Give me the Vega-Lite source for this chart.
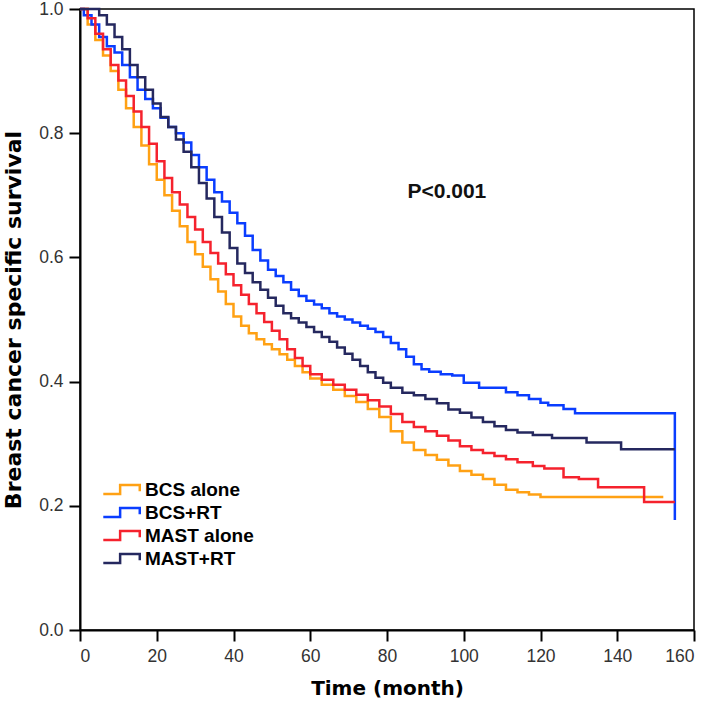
{
  "$schema": "https://vega.github.io/schema/vega-lite/v6.json",
  "width": 614,
  "height": 621,
  "autosize": "none",
  "padding": {"left": 80, "top": 9, "right": 15, "bottom": 76},
  "background": "white",
  "config": {
    "view": {"stroke": "#000", "strokeWidth": 1.5},
    "axis": {
      "grid": false,
      "domainColor": "#000",
      "domainWidth": 2,
      "tickColor": "#000",
      "tickWidth": 2,
      "tickSize": 11,
      "labelFont": "Liberation Sans",
      "labelFontSize": 17.5,
      "labelColor": "#333",
      "titleFont": "DejaVu Sans",
      "titleFontWeight": "bold",
      "titleColor": "#000"
    }
  },
  "data": {"values": [
    {"group":"BCS alone","time":0,"surv":1.0},
    {"group":"BCS alone","time":2,"surv":0.975},
    {"group":"BCS alone","time":4,"surv":0.95},
    {"group":"BCS alone","time":6,"surv":0.925},
    {"group":"BCS alone","time":8,"surv":0.9},
    {"group":"BCS alone","time":10,"surv":0.87},
    {"group":"BCS alone","time":12,"surv":0.84},
    {"group":"BCS alone","time":14,"surv":0.81},
    {"group":"BCS alone","time":16,"surv":0.78},
    {"group":"BCS alone","time":18,"surv":0.75},
    {"group":"BCS alone","time":20,"surv":0.725},
    {"group":"BCS alone","time":22,"surv":0.7},
    {"group":"BCS alone","time":24,"surv":0.675},
    {"group":"BCS alone","time":26,"surv":0.65},
    {"group":"BCS alone","time":28,"surv":0.625},
    {"group":"BCS alone","time":30,"surv":0.605},
    {"group":"BCS alone","time":32,"surv":0.585},
    {"group":"BCS alone","time":34,"surv":0.565},
    {"group":"BCS alone","time":36,"surv":0.545},
    {"group":"BCS alone","time":38,"surv":0.525},
    {"group":"BCS alone","time":40,"surv":0.505},
    {"group":"BCS alone","time":42,"surv":0.49},
    {"group":"BCS alone","time":44,"surv":0.478},
    {"group":"BCS alone","time":46,"surv":0.468},
    {"group":"BCS alone","time":48,"surv":0.46},
    {"group":"BCS alone","time":50,"surv":0.452},
    {"group":"BCS alone","time":52,"surv":0.444},
    {"group":"BCS alone","time":54,"surv":0.435},
    {"group":"BCS alone","time":56,"surv":0.425},
    {"group":"BCS alone","time":58,"surv":0.415},
    {"group":"BCS alone","time":60,"surv":0.405},
    {"group":"BCS alone","time":63,"surv":0.395},
    {"group":"BCS alone","time":66,"surv":0.387},
    {"group":"BCS alone","time":69,"surv":0.377},
    {"group":"BCS alone","time":72,"surv":0.367},
    {"group":"BCS alone","time":75,"surv":0.356},
    {"group":"BCS alone","time":78,"surv":0.343},
    {"group":"BCS alone","time":81,"surv":0.32},
    {"group":"BCS alone","time":84,"surv":0.302},
    {"group":"BCS alone","time":87,"surv":0.29},
    {"group":"BCS alone","time":90,"surv":0.282},
    {"group":"BCS alone","time":93,"surv":0.274},
    {"group":"BCS alone","time":96,"surv":0.265},
    {"group":"BCS alone","time":99,"surv":0.256},
    {"group":"BCS alone","time":102,"surv":0.25},
    {"group":"BCS alone","time":105,"surv":0.243},
    {"group":"BCS alone","time":108,"surv":0.234},
    {"group":"BCS alone","time":111,"surv":0.226},
    {"group":"BCS alone","time":114,"surv":0.222},
    {"group":"BCS alone","time":117,"surv":0.218},
    {"group":"BCS alone","time":120,"surv":0.214},
    {"group":"BCS alone","time":152,"surv":0.214},

    {"group":"BCS+RT","time":0,"surv":1.0},
    {"group":"BCS+RT","time":1,"surv":0.99},
    {"group":"BCS+RT","time":3,"surv":0.975},
    {"group":"BCS+RT","time":5,"surv":0.955},
    {"group":"BCS+RT","time":7,"surv":0.94},
    {"group":"BCS+RT","time":9,"surv":0.93},
    {"group":"BCS+RT","time":11,"surv":0.91},
    {"group":"BCS+RT","time":13,"surv":0.89},
    {"group":"BCS+RT","time":15,"surv":0.87},
    {"group":"BCS+RT","time":17,"surv":0.855},
    {"group":"BCS+RT","time":19,"surv":0.84},
    {"group":"BCS+RT","time":21,"surv":0.825},
    {"group":"BCS+RT","time":23,"surv":0.81},
    {"group":"BCS+RT","time":25,"surv":0.8},
    {"group":"BCS+RT","time":27,"surv":0.785},
    {"group":"BCS+RT","time":29,"surv":0.765},
    {"group":"BCS+RT","time":31,"surv":0.745},
    {"group":"BCS+RT","time":33,"surv":0.725},
    {"group":"BCS+RT","time":35,"surv":0.705},
    {"group":"BCS+RT","time":37,"surv":0.69},
    {"group":"BCS+RT","time":39,"surv":0.672},
    {"group":"BCS+RT","time":41,"surv":0.655},
    {"group":"BCS+RT","time":43,"surv":0.635},
    {"group":"BCS+RT","time":45,"surv":0.612},
    {"group":"BCS+RT","time":47,"surv":0.595},
    {"group":"BCS+RT","time":49,"surv":0.58},
    {"group":"BCS+RT","time":51,"surv":0.57},
    {"group":"BCS+RT","time":53,"surv":0.56},
    {"group":"BCS+RT","time":55,"surv":0.548},
    {"group":"BCS+RT","time":57,"surv":0.538},
    {"group":"BCS+RT","time":59,"surv":0.53},
    {"group":"BCS+RT","time":61,"surv":0.524},
    {"group":"BCS+RT","time":63,"surv":0.518},
    {"group":"BCS+RT","time":65,"surv":0.51},
    {"group":"BCS+RT","time":67,"surv":0.505},
    {"group":"BCS+RT","time":69,"surv":0.5},
    {"group":"BCS+RT","time":71,"surv":0.495},
    {"group":"BCS+RT","time":73,"surv":0.49},
    {"group":"BCS+RT","time":75,"surv":0.485},
    {"group":"BCS+RT","time":77,"surv":0.48},
    {"group":"BCS+RT","time":79,"surv":0.472},
    {"group":"BCS+RT","time":81,"surv":0.462},
    {"group":"BCS+RT","time":83,"surv":0.452},
    {"group":"BCS+RT","time":85,"surv":0.44},
    {"group":"BCS+RT","time":87,"surv":0.428},
    {"group":"BCS+RT","time":89,"surv":0.42},
    {"group":"BCS+RT","time":91,"surv":0.416},
    {"group":"BCS+RT","time":94,"surv":0.412},
    {"group":"BCS+RT","time":97,"surv":0.41},
    {"group":"BCS+RT","time":100,"surv":0.398},
    {"group":"BCS+RT","time":104,"surv":0.39},
    {"group":"BCS+RT","time":111,"surv":0.383},
    {"group":"BCS+RT","time":114,"surv":0.378},
    {"group":"BCS+RT","time":117,"surv":0.372},
    {"group":"BCS+RT","time":120,"surv":0.366},
    {"group":"BCS+RT","time":122,"surv":0.362},
    {"group":"BCS+RT","time":126,"surv":0.356},
    {"group":"BCS+RT","time":129,"surv":0.349},
    {"group":"BCS+RT","time":155,"surv":0.349},
    {"group":"BCS+RT","time":155.01,"surv":0.177},

    {"group":"MAST alone","time":0,"surv":1.0},
    {"group":"MAST alone","time":2,"surv":0.985},
    {"group":"MAST alone","time":4,"surv":0.96},
    {"group":"MAST alone","time":6,"surv":0.935},
    {"group":"MAST alone","time":8,"surv":0.91},
    {"group":"MAST alone","time":10,"surv":0.885},
    {"group":"MAST alone","time":12,"surv":0.86},
    {"group":"MAST alone","time":14,"surv":0.835},
    {"group":"MAST alone","time":16,"surv":0.81},
    {"group":"MAST alone","time":18,"surv":0.783},
    {"group":"MAST alone","time":20,"surv":0.755},
    {"group":"MAST alone","time":22,"surv":0.728},
    {"group":"MAST alone","time":24,"surv":0.705},
    {"group":"MAST alone","time":26,"surv":0.685},
    {"group":"MAST alone","time":28,"surv":0.665},
    {"group":"MAST alone","time":30,"surv":0.645},
    {"group":"MAST alone","time":32,"surv":0.625},
    {"group":"MAST alone","time":34,"surv":0.607},
    {"group":"MAST alone","time":36,"surv":0.59},
    {"group":"MAST alone","time":38,"surv":0.573},
    {"group":"MAST alone","time":40,"surv":0.555},
    {"group":"MAST alone","time":42,"surv":0.54},
    {"group":"MAST alone","time":44,"surv":0.525},
    {"group":"MAST alone","time":46,"surv":0.51},
    {"group":"MAST alone","time":48,"surv":0.496},
    {"group":"MAST alone","time":50,"surv":0.482},
    {"group":"MAST alone","time":52,"surv":0.468},
    {"group":"MAST alone","time":54,"surv":0.452},
    {"group":"MAST alone","time":56,"surv":0.438},
    {"group":"MAST alone","time":58,"surv":0.425},
    {"group":"MAST alone","time":60,"surv":0.412},
    {"group":"MAST alone","time":63,"surv":0.403},
    {"group":"MAST alone","time":66,"surv":0.395},
    {"group":"MAST alone","time":69,"surv":0.387},
    {"group":"MAST alone","time":72,"surv":0.379},
    {"group":"MAST alone","time":75,"surv":0.37},
    {"group":"MAST alone","time":78,"surv":0.36},
    {"group":"MAST alone","time":81,"surv":0.348},
    {"group":"MAST alone","time":84,"surv":0.335},
    {"group":"MAST alone","time":87,"surv":0.327},
    {"group":"MAST alone","time":90,"surv":0.32},
    {"group":"MAST alone","time":93,"surv":0.313},
    {"group":"MAST alone","time":96,"surv":0.305},
    {"group":"MAST alone","time":99,"surv":0.296},
    {"group":"MAST alone","time":102,"surv":0.29},
    {"group":"MAST alone","time":105,"surv":0.285},
    {"group":"MAST alone","time":108,"surv":0.28},
    {"group":"MAST alone","time":111,"surv":0.275},
    {"group":"MAST alone","time":114,"surv":0.27},
    {"group":"MAST alone","time":118,"surv":0.264},
    {"group":"MAST alone","time":121,"surv":0.26},
    {"group":"MAST alone","time":126,"surv":0.246},
    {"group":"MAST alone","time":130,"surv":0.243},
    {"group":"MAST alone","time":135,"surv":0.23},
    {"group":"MAST alone","time":147,"surv":0.206},
    {"group":"MAST alone","time":155,"surv":0.206},

    {"group":"MAST+RT","time":0,"surv":1.0},
    {"group":"MAST+RT","time":3,"surv":1.0},
    {"group":"MAST+RT","time":5,"surv":0.99},
    {"group":"MAST+RT","time":7,"surv":0.975},
    {"group":"MAST+RT","time":9,"surv":0.955},
    {"group":"MAST+RT","time":11,"surv":0.935},
    {"group":"MAST+RT","time":13,"surv":0.91},
    {"group":"MAST+RT","time":15,"surv":0.89},
    {"group":"MAST+RT","time":17,"surv":0.87},
    {"group":"MAST+RT","time":19,"surv":0.848},
    {"group":"MAST+RT","time":21,"surv":0.826},
    {"group":"MAST+RT","time":23,"surv":0.81},
    {"group":"MAST+RT","time":25,"surv":0.79},
    {"group":"MAST+RT","time":27,"surv":0.77},
    {"group":"MAST+RT","time":29,"surv":0.745},
    {"group":"MAST+RT","time":31,"surv":0.72},
    {"group":"MAST+RT","time":33,"surv":0.695},
    {"group":"MAST+RT","time":35,"surv":0.665},
    {"group":"MAST+RT","time":37,"surv":0.64},
    {"group":"MAST+RT","time":39,"surv":0.615},
    {"group":"MAST+RT","time":41,"surv":0.59},
    {"group":"MAST+RT","time":43,"surv":0.575},
    {"group":"MAST+RT","time":45,"surv":0.56},
    {"group":"MAST+RT","time":47,"surv":0.548},
    {"group":"MAST+RT","time":49,"surv":0.535},
    {"group":"MAST+RT","time":51,"surv":0.522},
    {"group":"MAST+RT","time":53,"surv":0.51},
    {"group":"MAST+RT","time":55,"surv":0.502},
    {"group":"MAST+RT","time":57,"surv":0.495},
    {"group":"MAST+RT","time":59,"surv":0.488},
    {"group":"MAST+RT","time":61,"surv":0.48},
    {"group":"MAST+RT","time":63,"surv":0.472},
    {"group":"MAST+RT","time":65,"surv":0.464},
    {"group":"MAST+RT","time":67,"surv":0.455},
    {"group":"MAST+RT","time":69,"surv":0.445},
    {"group":"MAST+RT","time":71,"surv":0.435},
    {"group":"MAST+RT","time":73,"surv":0.425},
    {"group":"MAST+RT","time":75,"surv":0.415},
    {"group":"MAST+RT","time":77,"surv":0.406},
    {"group":"MAST+RT","time":79,"surv":0.398},
    {"group":"MAST+RT","time":81,"surv":0.39},
    {"group":"MAST+RT","time":84,"surv":0.382},
    {"group":"MAST+RT","time":87,"surv":0.378},
    {"group":"MAST+RT","time":90,"surv":0.372},
    {"group":"MAST+RT","time":93,"surv":0.365},
    {"group":"MAST+RT","time":96,"surv":0.355},
    {"group":"MAST+RT","time":99,"surv":0.35},
    {"group":"MAST+RT","time":102,"surv":0.342},
    {"group":"MAST+RT","time":105,"surv":0.335},
    {"group":"MAST+RT","time":108,"surv":0.328},
    {"group":"MAST+RT","time":111,"surv":0.322},
    {"group":"MAST+RT","time":114,"surv":0.318},
    {"group":"MAST+RT","time":118,"surv":0.314},
    {"group":"MAST+RT","time":123,"surv":0.309},
    {"group":"MAST+RT","time":132,"surv":0.302},
    {"group":"MAST+RT","time":141,"surv":0.291},
    {"group":"MAST+RT","time":155,"surv":0.291}
  ]},
  "layer": [
    {
      "mark": {"type": "line", "interpolate": "step-after", "strokeWidth": 2.5},
      "encoding": {
        "x": {
          "field": "time", "type": "quantitative",
          "scale": {"domain": [0, 160], "nice": false},
          "axis": {"values": [0,20,40,60,80,100,120,140,160], "title": "Time (month)", "labelPadding": 6, "titlePadding": 14, "titleFontSize": 20}
        },
        "y": {
          "field": "surv", "type": "quantitative",
          "scale": {"domain": [0, 1], "nice": false},
          "axis": {"values": [0,0.2,0.4,0.6,0.8,1.0], "format": ".1f", "title": "Breast cancer specific survival", "labelPadding": 6, "titlePadding": 13, "titleFontSize": 22}
        },
        "color": {
          "field": "group", "type": "nominal",
          "scale": {
            "domain": ["BCS alone", "BCS+RT", "MAST alone", "MAST+RT"],
            "range": ["#FFA114", "#0A3DFF", "#F5222D", "#25285F"]
          },
          "legend": {
            "title": null,
            "orient": "none",
            "legendX": 22,
            "legendY": 470,
            "symbolType": "M-1,0.2 L-0.1,0.2 L-0.1,-0.28 L0.95,-0.28 L0.95,0.05",
            "symbolSize": 1400,
            "symbolStrokeWidth": 2.5,
            "symbolFillColor": "transparent",
            "clipHeight": 22.5,
            "rowPadding": 0,
            "labelOffset": 3,
            "labelFont": "Liberation Sans",
            "labelFontSize": 19,
            "labelFontWeight": "bold",
            "labelColor": "#000",
            "padding": 0
          }
        }
      }
    },
    {
      "data": {"values": [{"label": "P<0.001"}]},
      "mark": {"type": "text", "font": "Liberation Sans", "fontSize": 21, "fontWeight": "bold", "fill": "#111", "align": "center", "baseline": "middle"},
      "encoding": {
        "x": {"datum": 95.6},
        "y": {"datum": 0.705},
        "text": {"field": "label"}
      }
    }
  ]
}
